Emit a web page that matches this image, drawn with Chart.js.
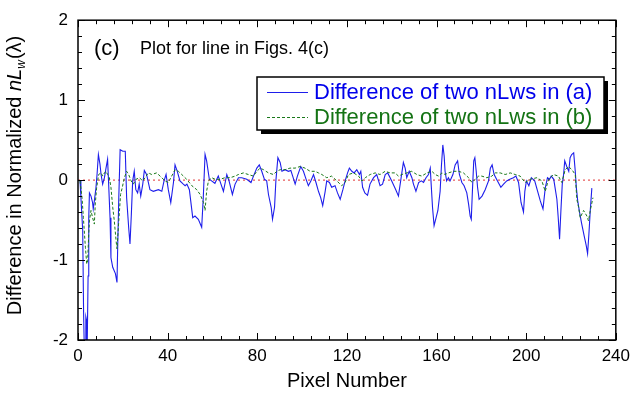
<!DOCTYPE html>
<html><head><meta charset="utf-8">
<script src="https://cdn.jsdelivr.net/npm/chart.js@4/dist/chart.umd.min.js"></script>
<style>html,body{margin:0;padding:0;background:#fff;overflow:hidden}</style>
</head><body>
<canvas id="c" width="636" height="393"></canvas>
<script>
// ---- data (pixel number, difference) ----
const blueLine = [[0.9,0.00],[1.3,-0.22],[2.1,-0.63],[2.5,-1.67],[2.8,-2.1],[3.2,-2.1],[3.5,-1.71],[3.8,-1.75],[4.1,-2.1],[4.3,-2.1],
[4.5,-1.20],[4.8,-0.47],[5.1,-0.16],[5.8,-0.20],[6.5,-0.28],[6.8,-0.36],[7.3,-0.26],[8.0,-0.10],[8.5,0.07],[9.1,0.32],
[9.8,0.20],[10.3,0.07],[11.0,-0.05],[11.8,0.03],[12.5,0.15],[13.2,0.26],[13.6,0.00],[14.3,-0.47],[14.7,-0.97],[15.5,-1.09],
[16.7,-1.17],[17.4,-1.28],[17.7,-0.85],[18.2,-0.22],[18.8,0.38],[20.0,0.36],[21.1,0.36],[21.7,-0.22],[22.6,-0.59],[23.2,-0.80],
[23.8,-0.43],[24.4,-0.01],[25.1,0.11],[25.8,-0.12],[26.6,-0.16],[27.3,-0.05],[28.0,-0.20],[28.9,-0.05],[29.6,0.12],[30.6,0.07],
[32.1,-0.12],[33.6,-0.14],[35.9,-0.12],[37.4,-0.14],[38.4,-0.01],[39.3,0.07],[40.3,-0.12],[41.4,-0.28],[42.6,-0.03],[43.3,0.19],
[44.3,0.11],[45.5,-0.01],[47.0,-0.05],[47.8,-0.07],[48.6,-0.05],[49.7,-0.12],[50.3,-0.26],[51.2,-0.47],[52.2,-0.45],[53.7,-0.49],
[55.2,-0.59],[55.9,-0.22],[56.7,0.32],[57.4,0.24],[58.6,0.01],[59.6,-0.01],[61.1,-0.04],[62.6,0.05],[63.8,-0.05],[64.9,-0.14],
[66.4,0.07],[67.4,-0.01],[68.9,-0.18],[70.1,-0.05],[71.6,0.03],[73.1,0.03],[75.3,0.01],[77.2,-0.03],[78.3,0.05],[79.8,0.15],
[80.9,0.19],[82.0,0.11],[83.2,0.01],[84.2,-0.01],[85.0,-0.18],[86.2,-0.34],[86.8,-0.49],[87.7,-0.34],[88.3,-0.01],[89.2,0.28],
[90.2,0.22],[91.0,0.11],[92.4,0.13],[93.9,0.11],[95.0,0.12],[95.8,0.05],[96.9,-0.05],[97.9,0.05],[99.4,0.17],[100.6,0.11],
[101.8,0.01],[102.8,-0.07],[103.9,-0.01],[105.1,0.07],[106.2,-0.03],[107.3,-0.14],[108.3,-0.22],[109.2,-0.32],[110.3,-0.14],[111.0,-0.01],
[112.2,-0.03],[113.2,-0.09],[114.7,-0.07],[115.8,-0.16],[117.0,-0.24],[118.2,-0.12],[119.2,-0.01],[120.3,0.09],[121.1,0.15],[122.2,0.11],
[123.2,0.09],[124.4,0.13],[125.6,0.07],[126.2,0.11],[127.0,-0.09],[128.0,-0.16],[129.2,-0.19],[130.3,-0.05],[131.9,0.03],[133.3,0.07],
[134.8,-0.07],[135.9,-0.05],[137.1,0.07],[138.2,0.09],[140.0,-0.01],[141.8,-0.12],[143.0,-0.20],[144.2,0.03],[145.2,0.22],[146.0,0.15],
[146.7,0.03],[147.8,0.11],[149.0,0.03],[149.7,-0.05],[150.8,-0.14],[152.0,-0.03],[153.2,-0.01],[154.2,-0.03],[155.3,0.03],[156.4,0.07],
[157.2,0.15],[157.6,-0.05],[158.2,-0.34],[158.9,-0.57],[159.8,-0.47],[160.6,-0.38],[161.6,-0.14],[162.2,0.19],[162.8,0.44],[163.4,0.30],
[163.8,0.11],[164.5,-0.01],[165.3,0.03],[166.0,-0.01],[167.3,0.07],[168.3,0.19],[169.4,0.24],[170.2,0.07],[171.3,-0.03],[172.3,-0.07],
[173.5,-0.16],[174.3,-0.30],[175.0,-0.45],[175.5,-0.49],[176.0,-0.14],[176.6,0.24],[177.1,0.28],[177.7,0.11],[178.3,-0.09],[179.0,-0.24],
[180.3,-0.20],[181.7,-0.12],[183.2,-0.01],[184.0,0.15],[184.8,0.19],[185.7,0.07],[187.2,-0.01],[188.7,-0.09],[189.9,-0.05],[191.3,-0.01],
[192.7,0.01],[194.3,0.03],[195.4,0.05],[196.6,-0.03],[197.7,-0.28],[198.8,-0.40],[199.4,-0.14],[200.1,-0.01],[201.2,-0.07],[202.3,0.03],
[203.8,-0.01],[206.3,-0.26],[207.5,-0.36],[208.5,-0.10],[209.5,0.03],[210.4,0.01],[211.2,0.05],[212.3,0.01],[213.7,-0.24],[214.3,-0.47],
[214.9,-0.74],[215.5,-0.38],[216.1,-0.05],[216.7,0.07],[217.2,0.24],[218.1,0.17],[219.0,0.11],[219.6,0.28],[220.3,0.32],[221.2,0.34],
[221.9,0.11],[222.4,-0.10],[223.0,-0.26],[223.8,-0.40],[224.8,-0.55],[225.9,-0.70],[226.8,-0.82],[227.4,-0.92],[228.0,-0.67],[228.6,-0.38],
[229.3,-0.10]];

const greenLine = [[0.9,-0.01],[1.8,-0.22],[2.4,-0.47],[3.3,-0.84],[3.9,-1.05],[4.3,-1.01],[4.8,-0.67],[5.1,-0.51],[5.8,-0.38],[6.5,-0.47],
[7.3,-0.55],[7.7,-0.30],[8.3,-0.10],[9.2,0.07],[10.3,0.09],[11.0,0.05],[11.8,0.09],[12.5,0.11],[13.2,0.07],[14.0,0.03],
[14.7,-0.09],[15.5,-0.34],[16.2,-0.51],[17.0,-0.76],[17.4,-0.86],[18.2,-0.51],[19.0,-0.18],[19.7,-0.10],[20.7,0.03],[21.7,0.11],
[22.6,0.07],[23.7,-0.01],[24.7,-0.05],[25.9,0.01],[27.4,0.03],[28.9,-0.01],[30.4,0.05],[31.4,0.09],[32.9,0.07],[35.1,0.09],
[37.4,0.03],[38.8,-0.01],[40.3,-0.03],[41.8,0.05],[43.3,0.13],[44.8,0.11],[46.3,0.07],[48.5,0.01],[50.8,-0.07],[53.0,-0.12],
[54.5,-0.18],[56.0,-0.28],[56.7,-0.38],[57.4,-0.14],[58.2,-0.01],[59.7,0.03],[61.2,0.01],[63.4,0.01],[65.6,0.03],[67.9,0.03],
[70.1,0.05],[71.6,0.07],[73.8,0.09],[76.0,0.07],[78.3,0.05],[79.8,0.11],[81.3,0.15],[82.8,0.13],[85.0,0.09],[87.2,0.07],
[88.7,0.11],[90.2,0.13],[92.4,0.13],[94.6,0.15],[96.9,0.15],[99.1,0.17],[101.3,0.15],[103.6,0.11],[105.8,0.11],[107.3,0.09],
[108.8,0.07],[111.0,0.03],[113.2,0.05],[115.5,-0.01],[117.7,-0.07],[119.2,-0.03],[120.7,0.07],[123.0,0.09],[125.2,0.05],[126.7,-0.01],
[128.2,0.03],[130.4,0.07],[132.6,0.09],[134.8,0.07],[137.1,0.11],[139.3,0.09],[141.5,0.09],[143.0,0.05],[144.5,0.07],[146.7,0.09],
[148.9,0.11],[151.2,0.07],[153.4,0.05],[155.7,0.09],[157.9,0.11],[159.4,0.07],[160.9,0.05],[162.4,0.09],[163.8,0.07],[165.3,0.09],
[167.6,0.11],[169.8,0.11],[172.0,0.09],[174.3,0.03],[175.8,-0.03],[177.2,0.01],[178.8,0.05],[180.2,0.05],[182.4,0.03],[184.7,0.05],
[186.2,0.09],[188.4,0.09],[190.6,0.07],[192.9,0.09],[195.1,0.07],[197.3,0.05],[199.5,-0.03],[201.8,0.01],[204.8,0.03],[207.0,-0.01],
[208.5,-0.14],[210.0,0.01],[212.2,0.07],[214.4,0.05],[215.9,-0.03],[217.4,0.13],[218.9,0.17],[220.4,0.13],[221.9,0.07],[222.6,-0.24],
[223.4,-0.34],[224.1,-0.47],[225.6,-0.38],[227.1,-0.45],[227.8,-0.51],[228.6,-0.38],[229.8,-0.22]];

const zeroLine = [[0,0],[240,0]];
const xTickValues = [0,40,80,120,160,200,240];
const yTickValues = [-2,-1,0,1,2];
const seriesLabels = ['Difference of two nLws in (a)','Difference of two nLws in (b)'];
const panelTag = '(c)';
const panelTitle = 'Plot for line in Figs. 4(c)';
const xTitle = 'Pixel Number';
const yTitleParts = ['Difference in Normalized ','nL','w','(\u03bb)'];

// ---- styling ----
const FONT = '"Liberation Sans", Arial, Helvetica, sans-serif';
const BLUE = 'rgb(30,30,235)';
const GREEN = 'rgb(25,120,25)';
const RED = 'rgb(225,50,50)';

const toPts = arr => arr.map(p => ({x:p[0], y:p[1]}));

const decor = {
  id:'decor',
  afterDatasetsDraw(chart){
    const ctx = chart.ctx, a = chart.chartArea;
    const xs = chart.scales.x, ys = chart.scales.y;
    ctx.save();
    ctx.strokeStyle = '#000';
    ctx.lineWidth = 1.5;
    ctx.strokeRect(a.left, a.top, a.right - a.left, a.bottom - a.top);
    ctx.lineWidth = 1;
    ctx.beginPath();
    for (let v = 0; v <= 240; v += 8){
      const px = Math.round(xs.getPixelForValue(v)) + 0.5;
      const len = (v % 40 === 0) ? 7 : 4;
      ctx.moveTo(px, a.bottom); ctx.lineTo(px, a.bottom - len);
      ctx.moveTo(px, a.top); ctx.lineTo(px, a.top + len);
    }
    for (let i = -10; i <= 10; i++){
      const v = i / 5;
      const py = Math.round(ys.getPixelForValue(v)) + 0.5;
      const len = (i % 5 === 0) ? 7 : 4;
      ctx.moveTo(a.left, py); ctx.lineTo(a.left + len, py);
      ctx.moveTo(a.right, py); ctx.lineTo(a.right - len, py);
    }
    ctx.stroke();
    ctx.restore();
  },
  afterDraw(chart){
    const ctx = chart.ctx, a = chart.chartArea;
    ctx.save();
    // panel text
    ctx.fillStyle = '#000';
    ctx.textBaseline = 'alphabetic';
    ctx.textAlign = 'left';
    ctx.font = '22px ' + FONT;
    ctx.fillText(panelTag, a.left + 16, a.top + 35);
    ctx.font = '18px ' + FONT;
    ctx.fillText(panelTitle, a.left + 62, a.top + 34);

    // legend box
    const lx = 257, ly = 77, lw = 347, lh = 53;
    ctx.fillStyle = '#000';
    ctx.fillRect(lx + 4, ly + 4, lw, lh);
    ctx.fillStyle = '#fff';
    ctx.fillRect(lx, ly, lw, lh);
    ctx.strokeStyle = '#000';
    ctx.lineWidth = 1.5;
    ctx.strokeRect(lx, ly, lw, lh);
    const items = chart.data.datasets.filter(d => d.label);
    items.forEach((d, i) => {
      const y = ly + 15 + i * 25;
      ctx.strokeStyle = d.borderColor;
      ctx.lineWidth = 1;
      ctx.setLineDash(d.borderDash || []);
      ctx.beginPath(); ctx.moveTo(lx + 10, y + 0.5); ctx.lineTo(lx + 51, y + 0.5); ctx.stroke();
      ctx.setLineDash([]);
      ctx.fillStyle = d.textColor;
      ctx.font = '22px ' + FONT;
      ctx.textBaseline = 'middle';
      ctx.fillText(d.label, lx + 57, y + 1);
    });

    // y title
    ctx.translate(15, 176);
    ctx.rotate(-Math.PI / 2);
    ctx.fillStyle = '#000';
    ctx.textBaseline = 'middle';
    const parts = [
      {t: yTitleParts[0], f: '20px ' + FONT, dy: 0},
      {t: yTitleParts[1], f: 'italic 20px ' + FONT, dy: 0},
      {t: yTitleParts[2], f: 'italic 12px ' + FONT, dy: 7},
      {t: yTitleParts[3], f: '20px ' + FONT, dy: 0}
    ];
    let total = 0;
    parts.forEach(p => { ctx.font = p.f; p.w = ctx.measureText(p.t).width; total += p.w; });
    let x = -total / 2;
    parts.forEach(p => { ctx.font = p.f; ctx.fillText(p.t, x, p.dy); x += p.w + (p.t === 'w' ? 1 : 0); });
    ctx.restore();
  }
};

new Chart(document.getElementById('c'), {
  type: 'line',
  data: {
    datasets: [
      {label: seriesLabels[0], data: toPts(blueLine), borderColor: BLUE, textColor: 'rgb(0,0,235)', borderWidth: 1.1, pointRadius: 0, tension: 0, order: 2},
      {label: seriesLabels[1], data: toPts(greenLine), borderColor: GREEN, textColor: 'rgb(20,115,20)', borderDash: [3,2], borderWidth: 1, pointRadius: 0, tension: 0, order: 1},
      {label: '', data: toPts(zeroLine), borderColor: RED, borderDash: [2,3], borderWidth: 1, pointRadius: 0, order: 3}
    ]
  },
  options: {
    responsive: false,
    animation: false,
    devicePixelRatio: 1,
    layout: {padding: {left: 0, top: 18, right: 20, bottom: 0}},
    plugins: {legend: {display: false}, tooltip: {enabled: false}},
    scales: {
      x: {
        type: 'linear', min: 0, max: 240,
        afterBuildTicks: s => { s.ticks = xTickValues.map(v => ({value: v})); },
        afterFit: s => { s.height = 53; },
        grid: {display: false, drawTicks: false},
        border: {display: false},
        ticks: {color: '#000', font: {family: FONT, size: 17}, padding: 6, maxRotation: 0, autoSkip: false},
        title: {display: true, text: xTitle, color: '#000', font: {family: FONT, size: 20}, padding: {top: 0, bottom: 0}}
      },
      y: {
        type: 'linear', min: -2, max: 2,
        afterBuildTicks: s => { s.ticks = yTickValues.map(v => ({value: v})); },
        afterFit: s => { s.width = 78; },
        grid: {display: false, drawTicks: false},
        border: {display: false},
        ticks: {color: '#000', font: {family: FONT, size: 17}, padding: 10, autoSkip: false}
      }
    }
  },
  plugins: [decor]
});
</script>
</body></html>
